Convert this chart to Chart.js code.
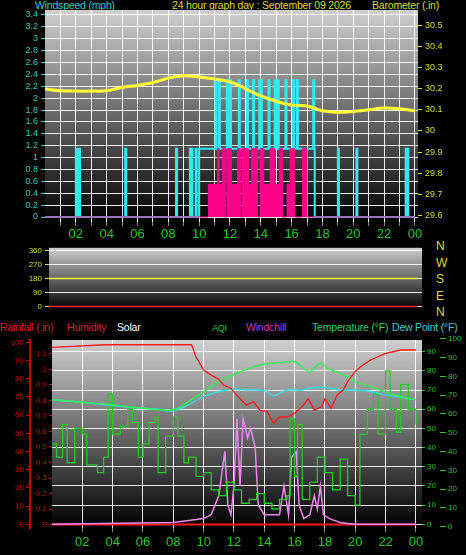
<!DOCTYPE html>
<html><head><meta charset="utf-8">
<script src="https://cdn.jsdelivr.net/npm/chart.js@4"></script>
<style>
body{margin:0;background:#000;width:466px;height:555px;overflow:hidden;position:relative;font-family:"Liberation Sans",Arial,sans-serif}
canvas{position:absolute;left:0}
.t{position:absolute;font-size:10.5px;white-space:nowrap;line-height:12px;letter-spacing:-0.2px}
</style></head><body>
<div class="t" style="left:35px;top:-1px;color:#3cc">Windspeed (mph)</div>
<div class="t" style="left:172px;top:-1px;color:#dd3">24 hour graph day : September 09 2026</div>
<div class="t" style="left:372px;top:-1px;color:#dd3">Barometer (.in)</div>
<div class="t" style="left:0;top:321px;color:#d22">Rainfall (.in)</div>
<div class="t" style="left:67px;top:321px;color:#d22">Humidity</div>
<div class="t" style="left:117px;top:321px;color:#fff">Solar</div>
<div class="t" style="left:212px;top:322px;color:#2c2;font-size:9px">AQI</div>
<div class="t" style="left:246px;top:321px;color:#c3c">Windchill</div>
<div class="t" style="left:312px;top:321px;color:#3c6">Temperature (°F)</div>
<div class="t" style="left:392px;top:321px;color:#4cc">Dew Point (°F)</div>
<div class="t" style="left:436px;top:238px;color:#dd3;font-size:12px;line-height:16.5px">N<br>W<br>S<br>E<br>N</div>
<canvas id="c1" width="466" height="240" style="top:0"></canvas>
<canvas id="c2" width="466" height="77" style="top:240px"></canvas>
<canvas id="c3" width="466" height="225" style="top:330px"></canvas>
<script>
// ---- data ----
const hourTicks = ["02","04","06","08","10","12","14","16","18","20","22","00"];
const baroHours = [0,1,2,3,4,5,6,7,8,9,10,11,12,13,14,15,16,17,18,19,20,21,22,23,24];
const baroVals = [30.198,30.19,30.188,30.188,30.19,30.205,30.215,30.228,30.25,30.26,30.255,30.245,30.232,30.2,30.165,30.14,30.122,30.118,30.095,30.088,30.092,30.1,30.108,30.105,30.095];
const windBaseHours = [0,10.0,17.5,24];
const windBaseVals = [0,1.15,0,0];
const windSpikeHours = [2.0,2.2,5.2,8.5,9.4,9.5,9.77,11.06,11.28,11.8,12.0,12.57,13.1,13.5,13.9,14.0,14.5,14.9,15.1,15.6,16.1,16.35,17.4,19.0,20.2,23.4,23.5];
const windSpikeVals = [1.15,1.15,1.15,1.15,1.15,1.15,1.15,2.3,2.3,2.3,2.3,2.3,2.3,2.3,2.3,2.3,2.3,2.3,2.3,2.3,2.3,2.3,2.3,1.15,1.15,1.15,1.15];
const gustHours = [0,10.6,11.2,11.3,11.5,11.7,11.8,12.1,12.5,12.7,12.8,13.2,13.4,13.8,13.95,14.2,14.6,14.9,15.2,15.4,15.7,15.9,16.2,16.7,17.0,24];
const gustVals = [0,0.55,1.15,0.55,1.15,0,1.15,0.55,1.15,0,1.15,0.55,1.15,0,1.15,0.55,1.15,0.55,1.15,0,0.55,1.15,0,1.15,0,0];
const dirHours = [0,24];
const dirVals = [180,180];
const humHours = [0,3.5,9.2,9.5,10,10.5,11,11.3,11.8,12.3,12.8,13.3,13.7,14.2,14.6,15,15.5,16,16.5,16.9,17.3,17.8,18,18.4,18.8,19.2,19.5,20,20.5,21,22,23,24];
const humVals = [97.3,98.7,98.7,92,84.8,82,79.7,76.6,74.7,70,65.6,67.4,62.8,62,55.5,59,59,61,64.7,69,62.8,64.7,69,63.7,71,73.8,78.4,84,87.5,90.3,94,95.8,95.8];
const tempHours = [0,2,4,6,8,9,10,11,12,13,14,15,16,16.5,17,17.7,18.2,19,19.5,20,21,22,23,24];
const tempVals = [65,63.7,62.3,60.5,59.7,64,69,74.4,78,81.3,83.6,84.3,84.8,82,79.6,84,81.3,78.7,77,74.4,71.8,69,66.6,65];
const dewHours = [0,2,4,6,7,8,9,10,11,12,13,14,14.6,15.5,16.5,17,18,19,20,21,22,23,24];
const dewVals = [65,63.7,62,60.5,60,59.2,62.3,66.6,69.2,70.4,70,69.7,67,70,70,71,71.5,70,70,69.2,67.5,66.3,65];
const aqiHours = [0,0.3,0.7,1,1.5,2,2.3,3,3.4,3.7,4,4.5,5,5.3,5.7,6,6.4,6.8,7,7.5,8,8.3,8.7,9,9.5,10,10.5,11,11.5,12,12.5,13,13.5,14,14.5,15,15.5,15.7,16,16.2,16.5,17,17.5,18,18.5,19,19.5,20,20.3,20.8,21.2,21.5,22,22.3,22.7,23,23.5,24];
const aqiVals = [42,35,52,32,50,47,31,27,35,68,47,51,60,53,35,42,53,56,27,46,56,46,32,35,25,27,18,15,22,18,11,13,16,11,8,13,15,55,25,52,13,22,35,27,18,34,15,10,47,60,68,47,80,60,48,73,60,52];
const solarHours = [0,8,10,10.5,11,11.4,11.6,11.8,12,12.2,12.4,12.6,12.9,13.1,13.4,13.6,14,14.5,15,15.3,15.6,15.8,16.1,16.3,16.6,17,17.3,17.5,17.7,17.9,18.3,19,19.5,20,24];
const solarVals = [0,1,3,5,15,38,10,5,20,55,20,55,45,50,40,10,5,5,5,20,5,35,38,10,3,5,15,8,20,5,3,1,0.5,0,0];
const rainHours = [0,24];
const rainVals = [0,0];

// ---- helpers ----
const pts = (h,v)=>h.map((x,i)=>({x,y:v[i]}));
function spikes(bh,bv,sh,sv){
  const W=0.07;
  const base=t=>{let v=0;for(let i=0;i<bh.length;i++) if(bh[i]<=t+1e-9) v=bv[i];return v;};
  const ev=[];
  bh.forEach(t=>ev.push(t));
  sh.forEach(t=>{ev.push(t);ev.push(t+W);});
  const uniq=[...new Set(ev.map(t=>Math.round(t*1000)/1000))].sort((a,b)=>a-b);
  return uniq.map(t=>{
    let v=base(t);
    sh.forEach((s,i)=>{ if(t>=s-1e-9 && t<s+W-1e-6) v=Math.max(v,sv[i]); });
    return {x:t,y:v};
  });
}
const bgPlugin={id:'bg',beforeDraw(c){const a=c.chartArea,ctx=c.ctx;const g=ctx.createLinearGradient(0,a.top,0,a.bottom);g.addColorStop(0,'#cfcfcf');g.addColorStop(1,'#000');ctx.save();ctx.fillStyle=g;ctx.fillRect(a.left,a.top,a.width,a.height);ctx.restore();}};
const grid={color:'rgba(255,255,255,0.9)',borderDash:[1,2],tickColor:'#888',tickLength:4};
const fx=(w)=>function(s){s.width=w;};
const fh=(h)=>function(s){s.height=h;};
const xTick=v=>(v%2===0&&v>0)?hourTicks[v/2-1]:'';
const num=v=>String(+(+v).toFixed(2));
const F='"Liberation Sans",Arial';
Chart.defaults.animation=false;
Chart.defaults.font.family=F;

new Chart(document.getElementById('c1'),{type:'line',plugins:[bgPlugin],
 data:{datasets:[
  {data:pts(baroHours,baroVals),yAxisID:'yb',borderColor:'#ffff33',borderWidth:3,pointRadius:0,tension:0.4},
  {data:pts(gustHours,gustVals),yAxisID:'yw',borderColor:'#ff0088',backgroundColor:'#ff0088',fill:'origin',stepped:true,borderWidth:1,pointRadius:0},
  {data:spikes(windBaseHours,windBaseVals,windSpikeHours,windSpikeVals),yAxisID:'yw',borderColor:'#33e8f0',borderWidth:2,stepped:true,pointRadius:0}
 ]},
 options:{responsive:false,layout:{padding:{top:10}},plugins:{legend:{display:false},tooltip:{enabled:false}},
  scales:{
   x:{type:'linear',min:0,max:24.2,afterFit:fh(18),afterBuildTicks:s=>{s.ticks=[];for(let i=1;i<=24;i++)s.ticks.push({value:i});},
      ticks:{color:'#2c2',font:{size:13},padding:1,maxRotation:0,autoSkip:false,callback:xTick},grid:{...grid},border:{display:false}},
   yw:{position:'left',min:-0.084,max:3.484,afterFit:fx(45),afterBuildTicks:s=>{s.ticks=[];for(let i=0;i<=17;i++)s.ticks.push({value:+(i*0.2).toFixed(1)});},
      ticks:{color:'#3cc',font:{size:9},padding:3,autoSkip:false,callback:num},grid:{...grid,tickColor:'#3cc'},border:{display:false}},
   yb:{position:'right',min:29.57,max:30.571,afterFit:fx(48),afterBuildTicks:s=>{s.ticks=[];for(let i=0;i<=9;i++)s.ticks.push({value:+(29.6+i*0.1).toFixed(1)});},
      ticks:{color:'#dd3',font:{size:9},padding:3,autoSkip:false,callback:num},grid:{drawOnChartArea:false,tickColor:'#dd3',tickLength:4},border:{display:false}}
  }}});

new Chart(document.getElementById('c2'),{type:'line',plugins:[bgPlugin],
 data:{datasets:[
  {data:pts(dirHours,dirVals),yAxisID:'yd',borderColor:'#ffff33',borderWidth:1.5,pointRadius:0},
  {data:pts(rainHours,rainVals),yAxisID:'yd',borderColor:'#ff2020',borderWidth:1.5,pointRadius:0}
 ]},
 options:{responsive:false,layout:{padding:{top:4,bottom:4}},plugins:{legend:{display:false},tooltip:{enabled:false}},
  scales:{
   x:{type:'linear',min:0,max:24.3,display:false},
   yd:{position:'left',min:-17,max:377,afterFit:fx(49),afterBuildTicks:s=>{s.ticks=[0,90,180,270,360].map(v=>({value:v}));},
      ticks:{color:'#dd3',font:{size:8},padding:3,autoSkip:false},grid:{...grid,tickColor:'#dd3'},border:{display:false}},
   yr:{position:'right',min:0,max:1,afterFit:fx(44),ticks:{display:false},grid:{display:false},border:{display:false}}
  }}});

new Chart(document.getElementById('c3'),{type:'line',plugins:[bgPlugin],
 data:{datasets:[
  {data:pts(humHours,humVals),yAxisID:'yh',borderColor:'#ff1a1a',borderWidth:1.3,pointRadius:0},
  {data:pts(tempHours,tempVals),yAxisID:'yt',borderColor:'#33ee55',borderWidth:1.5,pointRadius:0,tension:0.3},
  {data:pts(dewHours,dewVals),yAxisID:'yt',borderColor:'#33dddd',borderWidth:1.5,pointRadius:0,tension:0.3},
  {data:pts(aqiHours,aqiVals),yAxisID:'yt',borderColor:'#22cc22',borderWidth:1.3,stepped:true,pointRadius:0},
  {data:pts(solarHours,solarVals),yAxisID:'yt',borderColor:'#ee88ee',borderWidth:1.5,pointRadius:0},
  {data:pts(rainHours,rainVals),yAxisID:'yr',borderColor:'#ff1a1a',borderWidth:2,pointRadius:0}
 ]},
 options:{responsive:false,layout:{padding:{top:10}},plugins:{legend:{display:false},tooltip:{enabled:false}},
  scales:{
   x:{type:'linear',min:0,max:24.4,afterFit:fh(27),afterBuildTicks:s=>{s.ticks=[];for(let i=2;i<=24;i+=2)s.ticks.push({value:i});},
      ticks:{color:'#2c2',font:{size:13},padding:3,maxRotation:0,autoSkip:false,callback:xTick},grid:{...grid},border:{display:false}},
   yr:{position:'left',weight:0,min:-0.022,max:1.189,afterFit:fx(22),afterBuildTicks:s=>{s.ticks=[];for(let i=0;i<=11;i++)s.ticks.push({value:+(i*0.1).toFixed(1)});},
      ticks:{color:'#c00',font:{size:8},padding:2,autoSkip:false,callback:num},grid:{drawOnChartArea:false,tickColor:'#c00',tickLength:3},border:{display:false}},
   yh:{position:'left',weight:1,min:-2,max:101.3,afterFit:fx(30),afterBuildTicks:s=>{s.ticks=[];for(let i=0;i<=10;i++)s.ticks.push({value:i*10});},
      ticks:{color:'#c00',font:{size:8},padding:2,autoSkip:false},grid:{drawOnChartArea:false,tickColor:'#c00',tickLength:4},border:{display:true,color:'#c00',width:2}},
   yt:{position:'right',weight:0,min:-1.9,max:96.1,afterFit:fx(18),afterBuildTicks:s=>{s.ticks=[];for(let i=0;i<=9;i++)s.ticks.push({value:i*10});},
      ticks:{color:'#2c2',font:{size:8},padding:2,autoSkip:false},grid:{...grid,tickColor:'#2c2',tickLength:3},border:{display:false}},
   yo:{position:'right',weight:1,min:-0.7,max:99.4,afterFit:fx(26),afterBuildTicks:s=>{s.ticks=[];for(let i=0;i<=10;i++)s.ticks.push({value:i*10});},
      ticks:{color:'#2c2',font:{size:8},padding:2,autoSkip:false},grid:{drawOnChartArea:false,tickColor:'#2c2',tickLength:6},border:{display:false}}
  }}});
</script></body></html>
